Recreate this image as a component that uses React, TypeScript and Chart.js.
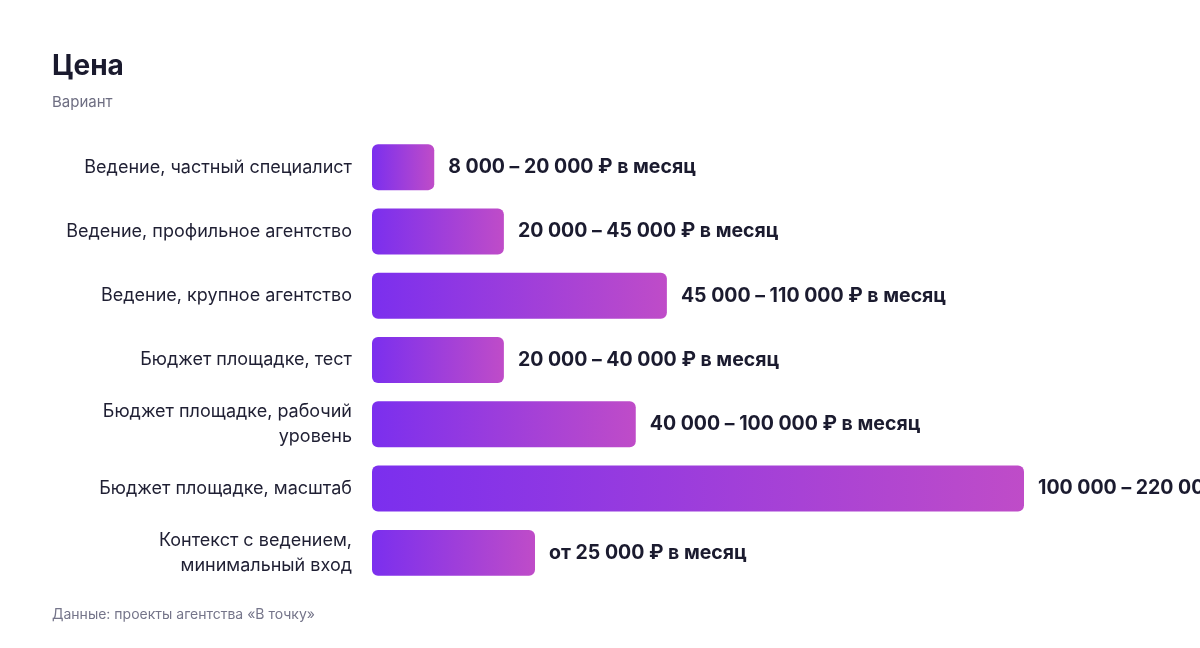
import { useEffect, useRef } from 'react';
import { Chart, registerables } from 'chart.js';

Chart.register(...registerables);

const FONT = 'Inter, "Noto Sans", sans-serif';

const categories: (string | string[])[] = [
  'Ведение, частный специалист',
  'Ведение, профильное агентство',
  'Ведение, крупное агентство',
  'Бюджет площадке, тест',
  ['Бюджет площадке, рабочий', 'уровень'],
  'Бюджет площадке, масштаб',
  ['Контекст с ведением,', 'минимальный вход'],
];

// relative bar length (largest bar = 220)
const barValues = [21, 44.5, 99.5, 44.5, 89, 220, 55];

const valueLabels = [
  '8 000 – 20 000 ₽ в месяц',
  '20 000 – 45 000 ₽ в месяц',
  '45 000 – 110 000 ₽ в месяц',
  '20 000 – 40 000 ₽ в месяц',
  '40 000 – 100 000 ₽ в месяц',
  '100 000 – 220 000 ₽ в месяц',
  'от 25 000 ₽ в месяц',
];

const valueLabelPlugin = {
  id: 'valueLabels',
  afterDatasetsDraw(chart: Chart) {
    const meta = chart.getDatasetMeta(0);
    const ctx = chart.ctx;
    ctx.save();
    ctx.font = `bold 19.5px ${FONT}`;
    ctx.fillStyle = '#1b1b2f';
    ctx.textAlign = 'left';
    ctx.textBaseline = 'middle';
    meta.data.forEach((bar: any, i: number) => {
      ctx.fillText(valueLabels[i], bar.x + 14, bar.y);
    });
    ctx.restore();
  },
};

export default function App() {
  const canvasRef = useRef<HTMLCanvasElement>(null);
  const chartRef = useRef<Chart | null>(null);

  useEffect(() => {
    if (!canvasRef.current) return;
    chartRef.current?.destroy();

    chartRef.current = new Chart(canvasRef.current, {
      type: 'bar',
      data: {
        labels: categories,
        datasets: [
          {
            data: barValues,
            backgroundColor: (c: any) => {
              const chart = c.chart;
              if (!chart.chartArea || c.type !== 'data') return '#8a35e6';
              const x = chart.scales.x;
              const x0 = x.getPixelForValue(0);
              const x1 = x.getPixelForValue(c.parsed.x);
              const g = chart.ctx.createLinearGradient(x0, 0, x1, 0);
              g.addColorStop(0, '#7b2fee');
              g.addColorStop(1, '#bf4cc8');
              return g;
            },
            borderRadius: 6,
            borderSkipped: false,
            categoryPercentage: 1,
            barPercentage: 0.715,
          },
        ],
      },
      options: {
        indexAxis: 'y',
        responsive: true,
        maintainAspectRatio: false,
        animation: false,
        layout: {
          padding: { top: 135, bottom: 63, left: 0, right: 176 },
        },
        plugins: {
          legend: { display: false },
          tooltip: { enabled: false },
        },
        scales: {
          x: {
            min: 0,
            max: 220,
            display: false,
          },
          y: {
            grid: { display: false, drawTicks: false },
            border: { display: false },
            ticks: {
              padding: 20,
              color: '#1f1f33',
              font: { size: 18, family: FONT, lineHeight: 1.4 },
            },
            afterFit: (scale: any) => {
              scale.width = 372;
            },
          },
        },
      },
      plugins: [valueLabelPlugin],
    });

    return () => {
      chartRef.current?.destroy();
      chartRef.current = null;
    };
  }, []);

  return (
    <div
      style={{
        position: 'absolute',
        left: 0,
        top: 0,
        width: 1200,
        height: 648,
        overflow: 'hidden',
        background: '#fff',
        fontFamily: FONT,
      }}
    >
      <canvas ref={canvasRef} />
      <div
        style={{
          position: 'absolute',
          left: 52,
          top: 50,
          fontSize: 28,
          lineHeight: '30px',
          fontWeight: 700,
          color: '#1a1a2e',
        }}
      >
        Цена
      </div>
      <div
        style={{
          position: 'absolute',
          left: 52,
          top: 94,
          fontSize: 15,
          lineHeight: '16px',
          color: '#6e6e82',
        }}
      >
        Вариант
      </div>
      <div
        style={{
          position: 'absolute',
          left: 52,
          top: 606,
          fontSize: 14,
          lineHeight: '16px',
          color: '#75758a',
        }}
      >
        Данные: проекты агентства «В точку»
      </div>
    </div>
  );
}
